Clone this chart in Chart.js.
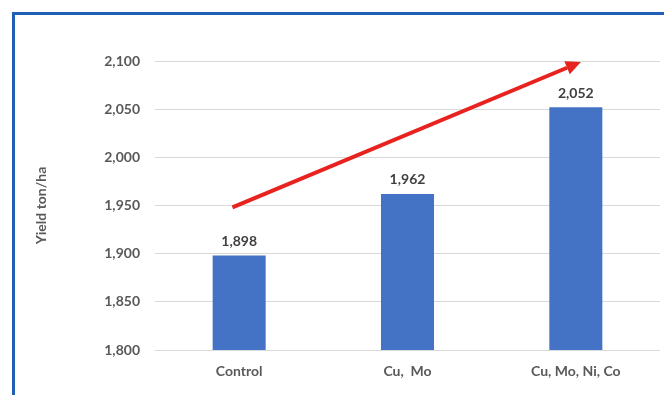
<!DOCTYPE html>
<html>
<head>
<meta charset="utf-8">
<script src="https://cdn.jsdelivr.net/npm/chart.js@4/dist/chart.umd.min.js"></script>
<style>
  html, body { margin: 0; padding: 0; background: #fff; }
  #wrap { position: relative; width: 664px; height: 395px; overflow: hidden; }
  #frame { position: absolute; left: 12px; top: 12px; width: 700px; height: 420px;
           border-left: 3px solid #1f5fb4; border-top: 3px solid #1f5fb4; pointer-events: none; }
</style>
</head>
<body>
<div id="wrap">
  <canvas id="yieldChart" width="664" height="395"></canvas>
  <div id="frame"></div>
</div>
<script>
var categories = ['Control', 'Cu,  Mo', 'Cu, Mo, Ni, Co'];
var yieldValues = [1898, 1962, 2052];
var yTicks = [1800, 1850, 1900, 1950, 2000, 2050, 2100];
// trend arrow, in data units: [category index, yield]
var arrowFrom = [-0.04, 1948];
var arrowTo = [2.03, 2099];

var labelFont = { family: 'Lato', size: 14, weight: 'bold' };

var barlabel_plug = {
  afterDatasetsDraw: function(chart) {
    var ctx = chart.ctx;
    var meta = chart.getDatasetMeta(0);
    ctx.save();
    ctx.font = "bold 14px Lato";
    ctx.fillStyle = "#404040";
    ctx.textAlign = "center";
    ctx.textBaseline = "middle";
    meta.data.forEach(function(bar, i) {
      ctx.fillText(yieldValues[i].toLocaleString('en-US'), bar.x, bar.y - 14);
    });
    ctx.restore();
  }
};

var arrow_plug = {
  afterDatasetsDraw: function(chart) {
    var ctx = chart.ctx,
        xs = chart.scales.x,
        ys = chart.scales.y;
    var x1 = xs.getPixelForValue(arrowFrom[0]), y1 = ys.getPixelForValue(arrowFrom[1]);
    var x2 = xs.getPixelForValue(arrowTo[0]), y2 = ys.getPixelForValue(arrowTo[1]);
    var ang = Math.atan2(y2 - y1, x2 - x1);
    var headLen = 15, headW = 7;
    var bx = x2 - headLen * Math.cos(ang), by = y2 - headLen * Math.sin(ang);

    ctx.save();
    ctx.strokeStyle = "#e8231f";
    ctx.fillStyle = "#e8231f";
    ctx.lineWidth = 4;
    ctx.beginPath();
    ctx.moveTo(x1, y1);
    ctx.lineTo(bx, by);
    ctx.stroke();
    ctx.beginPath();
    ctx.moveTo(x2, y2);
    ctx.lineTo(bx + headW * Math.sin(ang), by - headW * Math.cos(ang));
    ctx.lineTo(bx - headW * Math.sin(ang), by + headW * Math.cos(ang));
    ctx.closePath();
    ctx.fill();
    ctx.restore();
  }
};

var ctx = document.getElementById('yieldChart').getContext('2d');
var chart = new Chart(ctx, {
  type: 'bar',
  plugins: [barlabel_plug, arrow_plug],
  data: {
    labels: categories,
    datasets: [{
      data: yieldValues,
      backgroundColor: '#4472c4',
      borderWidth: 0,
      barPercentage: 0.63,
      categoryPercentage: 0.5
    }]
  },
  options: {
    responsive: false,
    animation: false,
    events: [],
    layout: { padding: { left: 0, right: 4, top: 61, bottom: 0 } },
    plugins: {
      legend: { display: false },
      tooltip: { enabled: false }
    },
    scales: {
      x: {
        grid: { display: false, drawTicks: false },
        border: { display: false },
        ticks: { color: '#595959', font: labelFont, padding: 13 },
        afterFit: function(s) { s.height = 45; }
      },
      y: {
        min: 1800,
        max: 2100,
        afterBuildTicks: function(s) {
          s.ticks = yTicks.map(function(v) { return { value: v }; });
        },
        grid: { color: '#d9d9d9', lineWidth: 1, drawTicks: false },
        border: { display: false },
        ticks: {
          color: '#595959',
          font: labelFont,
          padding: 15,
          callback: function(v) { return v.toLocaleString('en-US'); }
        },
        title: {
          display: true,
          text: 'Yield ton/ha',
          color: '#595959',
          font: labelFont,
          padding: { top: 33, bottom: 0 }
        },
        afterFit: function(s) { s.width = 155; }
      }
    }
  }
});
</script>
</body>
</html>
